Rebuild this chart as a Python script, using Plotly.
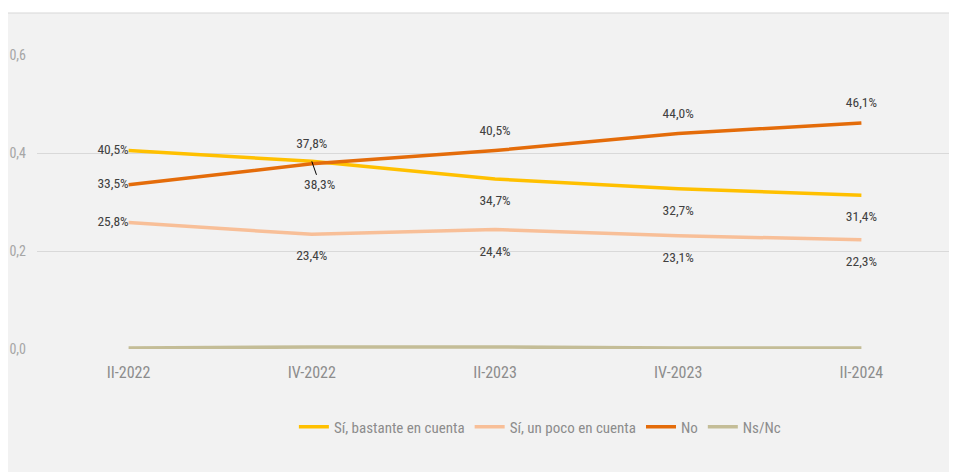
import plotly.graph_objects as go

categories = ["II-2022", "IV-2022", "II-2023", "IV-2023", "II-2024"]
bastante = [0.405, 0.383, 0.347, 0.327, 0.314]
un_poco = [0.258, 0.234, 0.244, 0.231, 0.223]
no = [0.335, 0.378, 0.405, 0.440, 0.461]
nsnc = [0.002, 0.004, 0.004, 0.002, 0.002]
y_ticks = [0.0, 0.2, 0.4, 0.6]
y_ticklabels = ["0,0", "0,2", "0,4", "0,6"]

def pct(v):
    return f"{v*100:.1f}%".replace(".", ",")

FAM = "Roboto Condensed, Liberation Sans Narrow, Arial Narrow, Roboto, sans-serif"
LABEL_FONT = dict(family=FAM, size=13.5, color="#404040")

# invisible marker sizes used only to push the data labels away from the line
TOP_PAD = 18
BOT_PAD = 24

fig = go.Figure()

series = [
    ("Sí, bastante en cuenta", bastante, "#FFC000"),
    ("Sí, un poco en cuenta", un_poco, "#F8BF98"),
    ("No", no, "#E46C0A"),
    ("Ns/Nc", nsnc, "#C4BD97"),
]
for name, vals, color in series:
    fig.add_trace(go.Scatter(
        x=categories, y=vals, mode="lines", name=name,
        line=dict(color=color, width=3.5), cliponaxis=False,
    ))

# data labels (separate, legend-less traces)
b_text = [pct(v) for v in bastante]
b_text[1] = ""  # shown via annotation with leader line
below_pos = ["middle left", "bottom center", "bottom center", "bottom center", "bottom center"]
above_pos = ["middle left", "top center", "top center", "top center", "top center"]
for vals, text, pos, pad in [
    (bastante, b_text, below_pos, BOT_PAD),
    (un_poco, [pct(v) for v in un_poco], below_pos, BOT_PAD),
    (no, [pct(v) for v in no], above_pos, TOP_PAD),
]:
    fig.add_trace(go.Scatter(
        x=categories, y=vals, mode="markers+text", showlegend=False, hoverinfo="skip",
        marker=dict(size=[0, pad, pad, pad, pad], opacity=0, color="rgba(0,0,0,0)"),
        text=text, textposition=pos, textfont=LABEL_FONT, cliponaxis=False,
    ))

fig.add_annotation(
    x=categories[1], y=bastante[1], text=pct(bastante[1]),
    showarrow=True, arrowhead=0, arrowwidth=1, arrowcolor="#000000",
    ax=8, ay=23, font=LABEL_FONT, standoff=0,
)

# chart area background box
fig.add_shape(
    type="rect", xref="paper", yref="paper",
    x0=-0.0328, x1=1.03, y0=-0.5, y1=1.1429,
    fillcolor="#F2F2F2", line=dict(color="#D9D9D9", width=1), layer="below",
)

fig.update_layout(
    width=957, height=472,
    margin=dict(l=29, r=12, t=47, b=131, autoexpand=False),
    paper_bgcolor="#FFFFFF",
    plot_bgcolor="#F2F2F2",
    showlegend=True,
    legend=dict(
        orientation="h", x=0.549, xanchor="center", y=-0.265, yanchor="middle",
        font=dict(family=FAM, size=15, color="#8C8C8C"),
        bgcolor="rgba(0,0,0,0)", itemwidth=30, tracegroupgap=0,
    ),
    xaxis=dict(
        type="category", range=[-0.5, 4.5], showgrid=False, zeroline=False,
        showline=False, ticks="", ticklabelstandoff=12, automargin=False,
        tickfont=dict(family=FAM, size=16, color="#8C8C8C"),
    ),
    yaxis=dict(
        range=[0, 0.6], tickvals=y_ticks, ticktext=y_ticklabels,
        showgrid=True, gridcolor="#D9D9D9", gridwidth=1, zeroline=False,
        showline=False, ticks="", ticklabelstandoff=10, automargin=False,
        tickfont=dict(family=FAM, size=14, color="#A6A6A6"),
    ),
)

fig.write_html("out.html")
